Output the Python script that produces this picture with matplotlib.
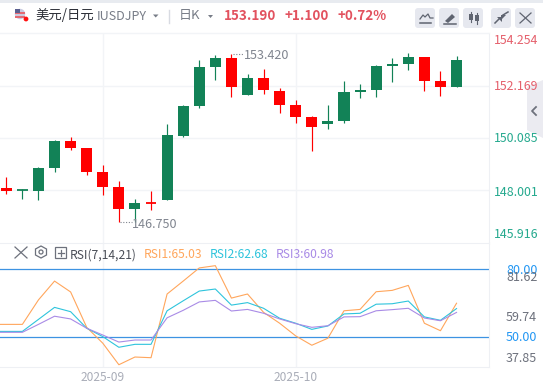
import matplotlib
matplotlib.use("Agg")
import matplotlib.pyplot as plt
from matplotlib.patches import FancyBboxPatch, Rectangle, Polygon, Circle

plt.rcParams['font.family'] = ['Noto Sans CJK SC', 'DejaVu Sans']

W, H = 543, 388
GREEN = '#128257'
RED = '#ff0000'
STEP = 16.08

opens  = [148.10, 148.00, 148.00, 148.90, 149.96, 149.69, 148.73, 148.14, 147.28, 147.52,
          147.63, 150.16, 151.37, 152.92, 153.26, 151.79, 152.47, 151.95, 151.39, 150.92,
          150.64, 150.76, 151.91, 151.99, 152.94, 153.02, 153.30, 152.35, 152.11]
highs  = [148.54, 148.05, 148.93, 149.99, 150.12, 149.69, 149.01, 148.38, 147.66, 147.98,
          150.64, 151.39, 153.18, 153.40, 153.42, 152.63, 152.82, 152.06, 151.59, 150.96,
          151.39, 152.35, 152.23, 152.98, 153.26, 153.46, 153.30, 152.74, 153.34]
lows   = [147.87, 147.67, 147.63, 148.75, 149.62, 148.61, 147.83, 146.75, 146.76, 147.24,
          147.63, 150.12, 151.29, 152.39, 151.71, 151.79, 151.83, 151.08, 150.68, 149.58,
          150.46, 150.68, 151.67, 151.71, 152.31, 152.80, 151.95, 151.75, 152.11]
closes = [148.00, 148.02, 148.89, 149.96, 149.70, 148.75, 148.15, 147.28, 147.50, 147.48,
          150.20, 151.35, 152.90, 153.26, 152.12, 152.47, 152.00, 151.39, 150.92, 150.54,
          150.76, 151.91, 151.99, 152.94, 153.02, 153.30, 152.35, 152.11, 153.19]

rsi1 = [55.7, 55.7, 66.5, 74.8, 70.0, 54.4, 47.4, 37.9, 41.3, 41.0, 69.1, 74.8, 80.6, 81.6, 67.3,
        69.1, 61.0, 56.2, 50.6, 46.5, 49.6, 61.7, 62.3, 70.1, 70.7, 72.9, 56.2, 52.9, 65.03]
rsi2 = [52.6, 52.6, 57.9, 63.2, 61.3, 54.0, 50.3, 45.6, 46.9, 46.9, 61.7, 66.1, 70.4, 71.3, 64.2,
        65.3, 62.8, 58.4, 56.2, 53.5, 55.0, 60.3, 60.6, 64.6, 64.8, 66.0, 59.0, 57.5, 62.68]
rsi3 = [52.2, 52.2, 55.7, 59.3, 58.1, 54.0, 51.0, 47.9, 48.8, 48.8, 58.6, 61.9, 65.6, 66.3, 61.6,
        62.3, 60.6, 58.1, 56.0, 54.4, 55.1, 59.0, 59.1, 61.7, 62.2, 62.8, 58.5, 57.3, 60.98]

price_ticks = [152.169, 150.085, 148.001]
price_labels = ['154.254', '152.169', '150.085', '148.001', '145.916']
price_label_colors = ['#e5606c', '#e5606c', '#25a98e', '#25a98e', '#25a98e']
rsi_levels = [80, 50]
month_idx = [6, 18]
month_labels = ['2025-09', '2025-10']


def idx_lim():
  return (0 - 6.3) / STEP, (489.3 - 6.3) / STEP


def add_px_axes(fig, left, top, right, bottom):
  return fig.add_axes([left / W, 1 - bottom / H, (right - left) / W, (bottom - top) / H])


fig = plt.figure(figsize=(W / 100, H / 100), dpi=100, facecolor='white')

# price panel
ax = add_px_axes(fig, 0, 33, 489.3, 243)
ax.set_xlim(*idx_lim())
ax.set_ylim(145.916, 154.254)
for i in range(len(opens)):
  col = GREEN if closes[i] >= opens[i] else RED
  ax.vlines(i, lows[i], highs[i], color=col, lw=0.85, zorder=3)
  body = abs(closes[i] - opens[i])
  if body < 0.06:
    ax.hlines((closes[i] + opens[i]) / 2, i - 0.34, i + 0.34, color=col, lw=1.3, zorder=3)
  else:
    ax.bar(i, body, bottom=min(opens[i], closes[i]), width=0.69, color=col, lw=0, zorder=3)
ax.set_yticks(price_ticks)
ax.set_xticks(month_idx)
ax.grid(color='#f2f4f7', lw=1)
ax.tick_params(length=0, labelleft=False, labelbottom=False)
for s in ['top', 'left', 'bottom']:
  ax.spines[s].set_visible(False)
ax.spines['right'].set_color('#eef0f4')
ax.annotate('153.420', xy=(14, 153.42), xytext=(13, -1), textcoords='offset pixels', color='#80858f',
            fontsize=9.1, va='center', ha='left', zorder=4)
ax.plot([14.1, 14.8], [153.42, 153.42], color='#80858f', lw=0.8, ls=(0, (1, 1.5)), zorder=4)
ax.annotate('146.750', xy=(7, 146.75), xytext=(13, -3), textcoords='offset pixels', color='#80858f',
            fontsize=9.1, va='center', ha='left', zorder=4)
ax.plot([7.1, 7.8], [146.75, 146.75], color='#80858f', lw=0.8, ls=(0, (1, 1.5)), zorder=4)

# rsi panel
axr = add_px_axes(fig, 0, 243, 489.3, 366.7)
axr.set_xlim(*idx_lim())
axr.set_ylim(37.03, 91.6)
axr.set_xticks(month_idx)
axr.set_xticklabels(month_labels, color='#a9adb8', fontsize=8.6)
axr.set_yticks([])
axr.grid(axis='x', color='#f2f4f7', lw=1)
axr.tick_params(length=0, pad=3)
xs = list(range(len(rsi1)))
axr.plot([-0.4] + xs, rsi1[:1] + rsi1, color='#ffa65c', lw=0.8, zorder=3)
axr.plot([-0.4] + xs, rsi2[:1] + rsi2, color='#2ec4dc', lw=0.8, zorder=3)
axr.plot([-0.4] + xs, rsi3[:1] + rsi3, color='#a98be6', lw=0.8, zorder=3)
for lev in rsi_levels:
  axr.axhline(lev, color='#3d93e2', lw=0.9, zorder=2)
axr.spines['top'].set_color('#eef0f4')
axr.spines['bottom'].set_color('#eef0f4')
axr.spines['right'].set_color('#eef0f4')
axr.spines['left'].set_visible(False)

# header, side labels and icons, in pixels
ov = fig.add_axes([0, 0, 1, 1], facecolor='none')
ov.set_xlim(0, W)
ov.set_ylim(H, 0)
ov.axis('off')
ov.add_patch(Rectangle((0, 0), W, 2.5, color='#e8ebf0', lw=0))
ov.plot([0, 489], [33, 33], color='#f2f4f7', lw=1)

# side labels of the price scale
label_ys = [41, 87, 139, 192, 234]
for txt, y, c in zip(price_labels, label_ys, price_label_colors):
  ov.text(493.5, y, txt, color=c, fontsize=8.9, va='center', ha='left')
ov.text(506, 270, '80.00', color='#2196f3', fontsize=9, va='center', ha='left')
ov.text(506, 277.5, '81.62', color='#6d717c', fontsize=9, va='center', ha='left')
ov.text(506, 317.5, '59.74', color='#6d717c', fontsize=9, va='center', ha='left')
ov.text(506, 337.5, '50.00', color='#2196f3', fontsize=9, va='center', ha='left')
ov.text(506, 358.5, '37.85', color='#6d717c', fontsize=9, va='center', ha='left')

# title row
ov.add_patch(Circle((20, 14), 5.2, color='#c9cbe0', lw=0))
ov.add_patch(Rectangle((15, 12), 10, 1.5, color='#e56a73', lw=0))
ov.add_patch(Rectangle((15, 16), 10, 1.5, color='#e56a73', lw=0))
ov.add_patch(Rectangle((15, 9), 5, 4, color='#5a5f8f', lw=0))
ov.add_patch(Circle((26, 19), 2.4, color='#ff1010', lw=0))
ov.text(35, 15, '美元/日元', color='#2d3038', fontsize=9.6, va='center', ha='left')
ov.text(97, 16.5, 'IUSDJPY', color='#777c87', fontsize=9, va='center', ha='left')
ov.add_patch(Polygon([[153, 14.5], [158.5, 14.5], [155.7, 17.5]], color='#777c87', lw=0))
ov.plot([169, 169], [10, 23], color='#d8dbe2', lw=1)
ov.text(179, 15, '日K', color='#777c87', fontsize=9.4, va='center', ha='left')
ov.add_patch(Polygon([[208, 15], [213, 15], [210.5, 18]], color='#777c87', lw=0))
ov.text(224, 15.5, '153.190', color='#e2525f', fontsize=9.7, fontweight='bold', va='center', ha='left')
ov.text(284.5, 15.5, '+1.100', color='#e2525f', fontsize=9.7, fontweight='bold', va='center', ha='left')
ov.text(338, 15.5, '+0.72%', color='#e2525f', fontsize=9.7, fontweight='bold', va='center', ha='left')

# toolbar buttons
for x0 in [415, 439, 463, 491, 515]:
  ov.add_patch(FancyBboxPatch((x0 + 2, 10), 16, 16, boxstyle='round,pad=2,rounding_size=3',
                              fc='#e6e8ef', ec='none'))
ic = '#5f6470'
ov.plot([420, 423, 425, 428, 430, 433], [19, 15, 17, 14, 18, 18], color=ic, lw=0.9)
ov.plot([420, 431], [23, 23], color=ic, lw=1.1)
ov.add_patch(Polygon([[445, 21], [452, 14], [455, 17], [448, 23]], color=ic, lw=0))
ov.plot([444, 456], [23.5, 23.5], color=ic, lw=1.1)
ov.add_patch(Rectangle((469, 14), 3.5, 6, color=ic, lw=0))
ov.plot([470.7, 470.7], [12, 22], color=ic, lw=0.8)
ov.add_patch(Rectangle((475, 15), 3.5, 6, color=ic, lw=0))
ov.plot([476.7, 476.7], [13, 24], color=ic, lw=0.8)
ov.plot([495, 500], [23, 18], color=ic, lw=1.1)
ov.plot([503, 508], [15, 12], color=ic, lw=1.1)
ov.add_patch(Polygon([[497, 17], [502, 17], [502, 22]], color=ic, lw=0))
ov.add_patch(Polygon([[501, 15], [506, 15], [501, 20]], color=ic, lw=0))
ov.plot([520, 531], [13, 23], color=ic, lw=0.9)
ov.plot([531, 520], [13, 23], color=ic, lw=0.9)

# collapse tab on the right edge
ov.add_patch(Polygon([[527, 87], [543, 80], [543, 138], [527, 130]], color='#ebebf1', lw=0))
ov.plot([536, 532, 536], [107, 111, 115], color='#6d717c', lw=1.3)

# rsi header
ov.plot([15, 27], [247, 258], color='#6d717c', lw=0.9)
ov.plot([27, 15], [247, 258], color='#6d717c', lw=0.9)
ov.add_patch(Polygon([[41, 246], [46.5, 249], [46.5, 255], [41, 258], [35.5, 255], [35.5, 249]],
                     fc='none', ec='#6d717c', lw=0.9))
ov.add_patch(Circle((41, 252), 2, fc='none', ec='#6d717c', lw=0.9))
ov.add_patch(Rectangle((55, 247), 11, 11, fc='none', ec='#6d717c', lw=0.9))
ov.plot([57.5, 63.5], [252.5, 252.5], color='#6d717c', lw=0.9)
ov.plot([60.5, 60.5], [249.5, 255.5], color='#6d717c', lw=0.9)
ov.text(70, 255, 'RSI(7,14,21)', color='#4a4e57', fontsize=8.7, va='center', ha='left')
ov.text(144, 255, 'RSI1:65.03', color='#ffa65c', fontsize=8.7, va='center', ha='left')
ov.text(210, 255, 'RSI2:62.68', color='#2ec4dc', fontsize=8.7, va='center', ha='left')
ov.text(276, 255, 'RSI3:60.98', color='#a98be6', fontsize=8.7, va='center', ha='left')

fig.savefig('out.png', dpi=100)
